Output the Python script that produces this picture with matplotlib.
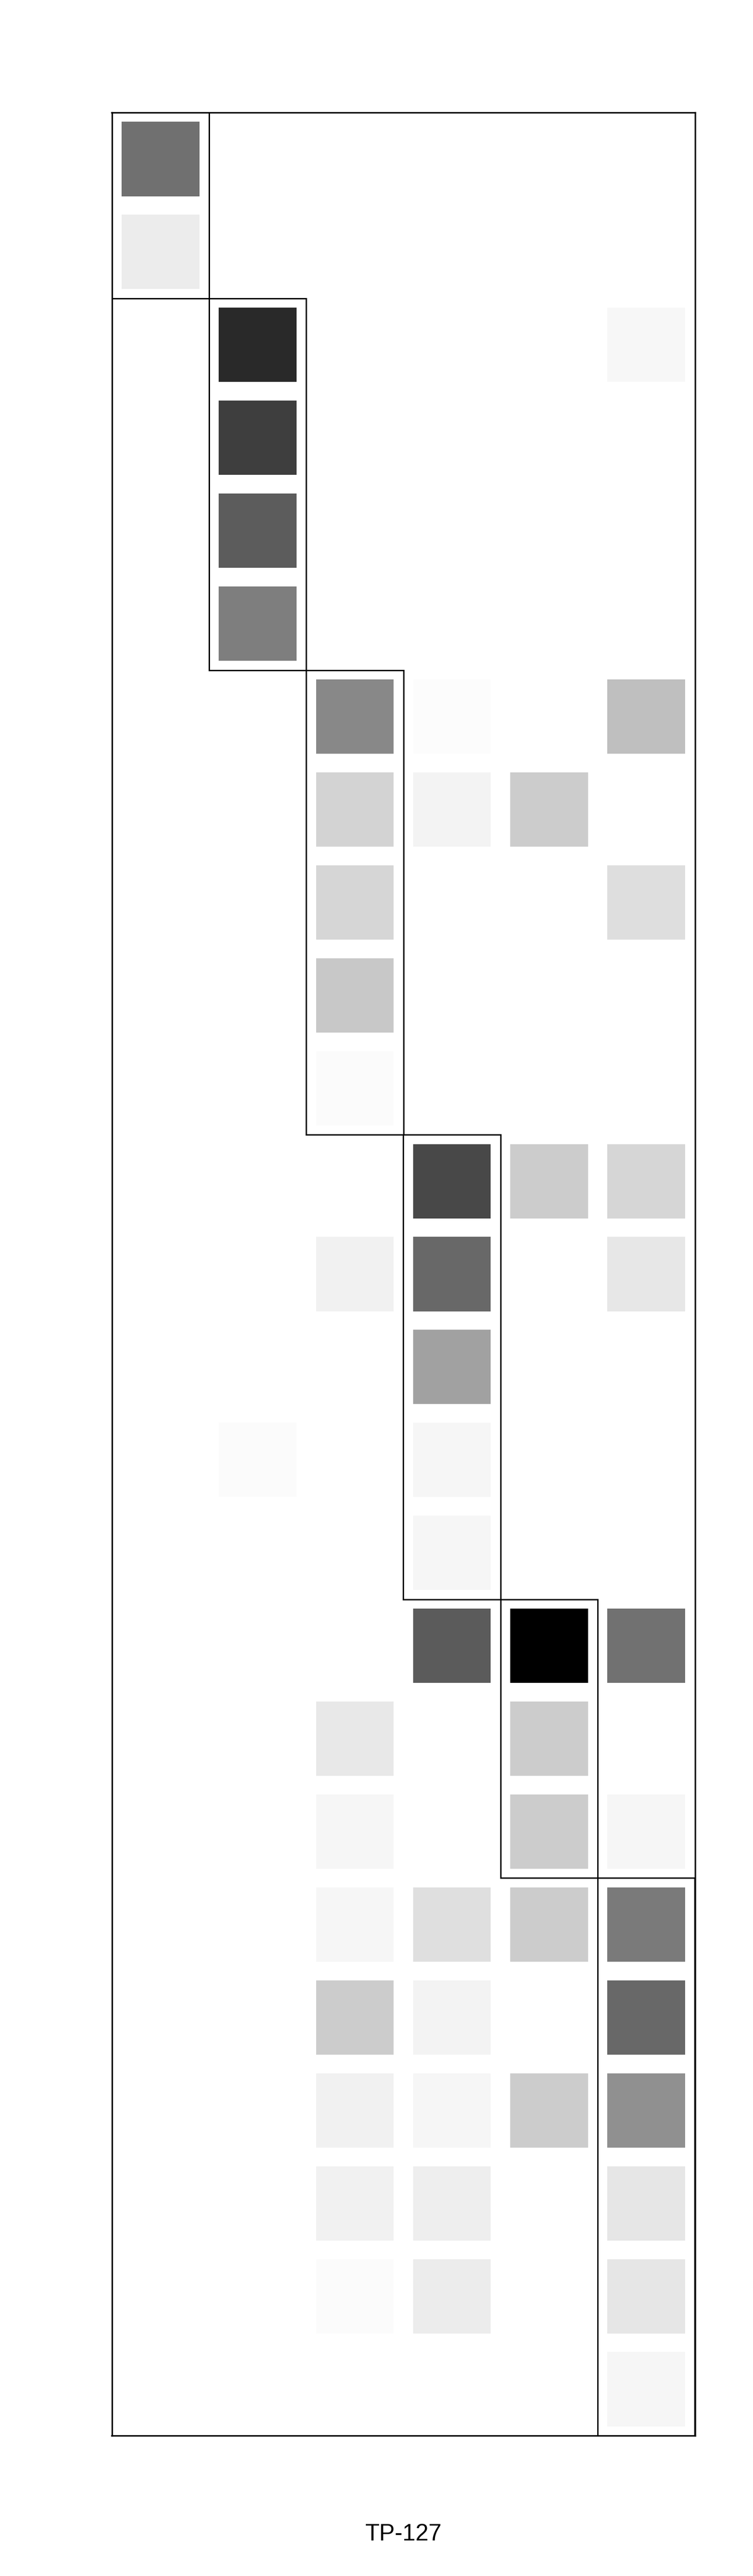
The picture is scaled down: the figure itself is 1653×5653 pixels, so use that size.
import matplotlib
matplotlib.use("Agg")
import matplotlib.pyplot as plt
from matplotlib.patches import Rectangle

# ---- data ----
n_rows = 25
n_cols = 6
# gray level of each filled cell (0 = black, 255 = white): (row, col, gray)
cell_rows = [0, 1,
             2, 2, 3, 4, 5,
             6, 6, 6, 7, 7, 7, 8, 8, 9, 10,
             11, 11, 11, 12, 12, 12, 13, 14, 14, 15,
             16, 16, 16, 17, 17, 18, 18, 18,
             19, 19, 19, 19, 20, 20, 20, 21, 21, 21, 21, 22, 22, 22, 23, 23, 23, 24]
cell_cols = [0, 0,
             1, 5, 1, 1, 1,
             2, 3, 5, 2, 3, 4, 2, 5, 2, 2,
             3, 4, 5, 2, 3, 5, 3, 1, 3, 3,
             3, 4, 5, 2, 4, 2, 4, 5,
             2, 3, 4, 5, 2, 3, 5, 2, 3, 4, 5, 2, 3, 5, 2, 3, 5, 5]
cell_gray = [112, 236,
             41, 247, 62, 92, 126,
             136, 252, 191, 211, 243, 204, 214, 222, 200, 251,
             72, 204, 214, 241, 104, 231, 161, 251, 246, 246,
             91, 0, 113, 232, 204, 246, 204, 246,
             246, 223, 204, 122, 204, 243, 104, 241, 246, 204, 144, 241, 238, 230, 251, 236, 230, 246]
# diagonal blocks: column and row span
block_cols = [0, 1, 2, 3, 4, 5]
block_row_start = [0, 2, 6, 11, 16, 19]
block_row_end = [1, 5, 10, 15, 18, 24]
title = "TP-127"

# ---- figure ----
W, H, DPI = 1653, 5653, 100
fig = plt.figure(figsize=(W / DPI, H / DPI), dpi=DPI)
ax = fig.add_axes([245.5 / W, 308 / H, 1280 / W, 5098 / H])

cell = 0.8
for r, c, g in zip(cell_rows, cell_cols, cell_gray):
    col = (g / 255.0,) * 3
    ax.bar(c, cell, width=cell, bottom=r - cell / 2, color=col, edgecolor="none", linewidth=0)

for c, r0, r1 in zip(block_cols, block_row_start, block_row_end):
    ax.add_patch(Rectangle((c - 0.5, r0 - 0.5), 1, r1 - r0 + 1, fill=False,
                           edgecolor="black", linewidth=2.2, zorder=5))

ax.set_xlim(-0.5, n_cols - 0.5)
ax.set_ylim(n_rows - 0.5, -0.5)
ax.set_xticks([])
ax.set_yticks([])
for s in ax.spines.values():
    s.set_linewidth(2.4)
    s.set_color("black")

fig.text(886 / W, (H - 5575) / H, title, ha="center", va="baseline",
         fontsize=37, family=["Liberation Sans", "DejaVu Sans"])

fig.savefig("out.png", dpi=DPI, facecolor="white")
